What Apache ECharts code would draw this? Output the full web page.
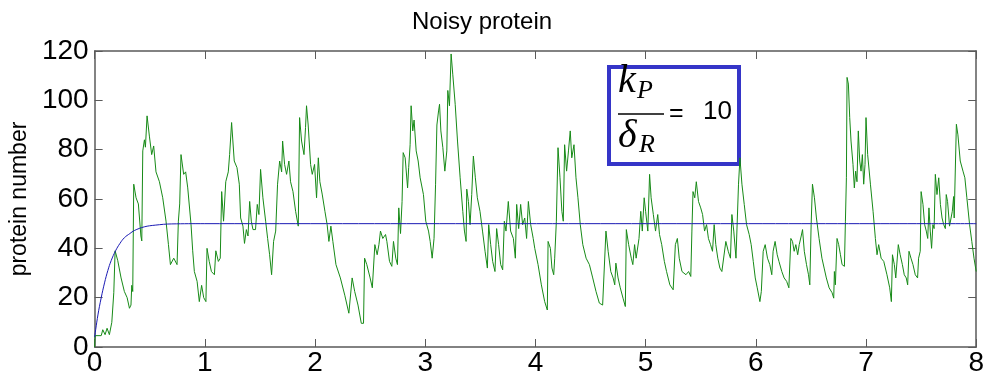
<!DOCTYPE html>
<html>
<head>
<meta charset="utf-8">
<script src="https://cdn.jsdelivr.net/npm/echarts@6/dist/echarts.min.js"></script>
<style>
html,body{margin:0;padding:0;background:#fff;}
#chart{width:987px;height:383px;}
</style>
</head>
<body>
<div id="chart"></div>
<script>
// ---- data ----
const titleText = 'Noisy protein';
const yAxisName = 'protein number';
const xTicks = [0, 1, 2, 3, 4, 5, 6, 7, 8];
const yTicks = [0, 20, 40, 60, 80, 100, 120];

// stochastic protein trajectory (time, protein number)
const greenT = [0,0.005,0.06,0.074,0.095,0.113,0.134,0.156,0.174,0.186,0.21,0.24,0.27,0.295,0.316,0.33,0.337,0.346,0.355,0.376,0.397,0.42,0.428,0.437,0.452,0.461,0.476,0.497,0.518,0.536,0.557,0.588,0.618,0.648,0.67,0.688,0.718,0.748,0.76,0.772,0.784,0.808,0.826,0.845,0.875,0.89,0.905,0.93,0.95,0.971,0.99,1.01,1.02,1.04,1.06,1.087,1.10,1.123,1.14,1.153,1.17,1.19,1.213,1.225,1.243,1.267,1.292,1.313,1.325,1.346,1.36,1.377,1.392,1.407,1.422,1.437,1.46,1.476,1.491,1.506,1.527,1.552,1.57,1.588,1.606,1.624,1.643,1.66,1.679,1.697,1.706,1.724,1.742,1.763,1.778,1.8,1.824,1.848,1.86,1.878,1.9,1.914,1.923,1.938,1.96,1.975,1.996,2.014,2.03,2.044,2.065,2.09,2.11,2.126,2.144,2.162,2.19,2.23,2.27,2.307,2.337,2.36,2.39,2.42,2.44,2.45,2.47,2.5,2.52,2.535,2.543,2.564,2.58,2.594,2.615,2.64,2.652,2.676,2.697,2.712,2.733,2.748,2.76,2.776,2.79,2.8,2.818,2.84,2.85,2.863,2.872,2.887,2.899,2.918,2.936,2.954,2.984,3.005,3.03,3.045,3.063,3.08,3.094,3.106,3.121,3.13,3.142,3.16,3.178,3.196,3.205,3.22,3.235,3.25,3.272,3.293,3.317,3.341,3.356,3.371,3.377,3.392,3.407,3.422,3.437,3.455,3.473,3.497,3.52,3.543,3.564,3.576,3.594,3.612,3.633,3.648,3.666,3.685,3.703,3.718,3.733,3.754,3.775,3.8,3.818,3.83,3.848,3.866,3.884,3.903,3.92,3.936,3.957,3.98,3.994,4.024,4.054,4.084,4.108,4.115,4.136,4.15,4.166,4.175,4.19,4.205,4.223,4.24,4.253,4.265,4.283,4.3,4.316,4.33,4.35,4.368,4.386,4.407,4.43,4.46,4.49,4.52,4.55,4.58,4.61,4.625,4.64,4.66,4.684,4.705,4.72,4.73,4.75,4.77,4.795,4.816,4.825,4.846,4.87,4.884,4.9,4.914,4.94,4.956,4.97,4.987,5.0,5.02,5.036,5.05,5.07,5.09,5.11,5.126,5.146,5.17,5.19,5.22,5.25,5.27,5.288,5.305,5.33,5.366,5.39,5.41,5.42,5.43,5.446,5.46,5.48,5.5,5.517,5.535,5.553,5.57,5.589,5.607,5.622,5.637,5.655,5.674,5.692,5.71,5.728,5.75,5.77,5.783,5.8,5.82,5.835,5.843,5.856,5.874,5.895,5.916,5.94,5.958,5.977,5.995,6.013,6.037,6.05,6.067,6.085,6.106,6.127,6.145,6.157,6.175,6.194,6.21,6.236,6.257,6.28,6.3,6.318,6.333,6.348,6.363,6.38,6.394,6.412,6.424,6.44,6.46,6.478,6.49,6.502,6.514,6.532,6.55,6.574,6.6,6.62,6.64,6.665,6.692,6.707,6.713,6.722,6.737,6.752,6.768,6.783,6.804,6.813,6.822,6.828,6.84,6.852,6.864,6.882,6.894,6.906,6.918,6.93,6.943,6.955,6.967,6.979,6.991,7.0,7.015,7.04,7.064,7.085,7.1,7.115,7.137,7.161,7.19,7.215,7.23,7.24,7.257,7.27,7.293,7.31,7.33,7.347,7.365,7.378,7.39,7.408,7.426,7.447,7.468,7.477,7.492,7.5,7.517,7.532,7.547,7.56,7.571,7.583,7.595,7.607,7.618,7.629,7.644,7.66,7.675,7.69,7.705,7.72,7.728,7.74,7.758,7.77,7.783,7.795,7.8,7.82,7.834,7.855,7.88,7.897,7.915,7.94,7.96,7.98,8.0];
const greenV = [0,4.6,4.6,7,5,7.6,5,10,22,39,35,28,22.5,20,15.7,17,25,22.5,66,60.5,58,45,43,79.5,84,81,93.7,85.5,78,81.5,71,67,60.5,51,41.5,33.4,36,33.4,51,58,78,70,71,64.5,49.6,39,30.6,26.6,18.4,25,20,18.4,40,34.7,30.6,29.3,39,34.7,36,63,51,67,71,78,91,75.4,72.7,66,52.3,49,42,47.6,45,59,51,47.6,47.6,57.8,53.7,72,60.5,51,44,37.4,29.3,42.8,47,66,75.4,71,83.5,74,70,75.4,67,63,55,49,93,83.5,78,89,97.8,90,74,70,74,60.5,76.7,67,62,55,49.6,42.8,49,42.8,33.4,28,21,13.7,28,22.5,17,9.6,9.6,36,33.4,28,24,24,41.5,37.4,41.5,47,44,45.6,42.8,34.7,32.7,42.8,36,33.4,56.4,46,59,78.8,76.7,64.5,72.7,82,97.8,87.6,92,79.5,75.4,68.6,61.8,51,47,42.8,36,44,66,90,95.7,98.4,87.6,80.8,71.3,79.5,104,97.8,118.8,110.6,98.4,83.5,68.6,55,47,42.8,64,59,49.6,61.8,77.4,68.6,60.5,55,47,38.8,32,49.6,41.5,34.7,30.6,48,41.5,33.4,31.3,51,47,59,47,44,36,57.8,48,57.8,49.6,52.3,44,59,49.6,44,40,33.4,25.2,18.4,15,42.8,40,32,29.3,36,51,80.8,68.6,55,51,82,71.3,79.5,87.6,76.7,82,68.6,60.5,49.6,41.5,36,33.4,28,22.5,17.8,17,17,47,38.8,30.6,28,25.2,34,28,24,19.8,16.4,47.6,41.5,36,33.4,41.5,36,44,55,47,60.5,55,47,70,60.5,53.7,47,53.7,45.6,41.5,34.7,30.6,25.2,23.2,41.5,44,36,30.6,29.3,30.6,28.6,47,63,60.5,67,59,56.4,53.7,47,49.6,44,41.5,38.8,49.6,41.5,36,32,30.6,30,42.8,38.8,36,53.7,47,36,36,66,76.7,66,57.8,49.6,45.6,41.5,34.7,28,24,18.4,22.5,38.8,41.5,36,33.4,29.3,38.8,42.8,37.4,34.7,30.6,28,26.6,24,44,42.8,38.8,41.5,37.4,41.5,45,47.6,38.8,33.4,29.3,25.2,49.6,66,60.5,52.3,44,36,32,28,24,22,19.8,30.6,25.2,44,41.5,37.4,33.4,32.7,51,68.6,109.3,106.6,93,83.5,74,64.5,71.3,67,87.6,75.4,71.3,78,66,74,93,78,66,55,44,37.4,41.5,36,34.7,29.3,24,18.4,37.4,33.4,28,41.5,37.4,33.4,29.3,28,25.2,38.8,36,33.4,29.3,28,36,38.8,63,57.8,49.6,47,44,56.4,47,40,49.6,48,70,61.8,68.6,57.8,52.3,49.6,48,61.8,59,49,49.6,55,61,52.3,90.3,86,75.4,71.3,68.6,60.5,49.6,42.8,36,30.6];

// deterministic mean (time, protein number)
const blueT = [0,0.03,0.06,0.09,0.12,0.15,0.19,0.23,0.27,0.32,0.36,0.45,0.55,0.7,1,8];
const blueV = [4,13,20,26,31,35,39,42,44.3,46,47.2,48.7,49.4,49.9,50,50];

// annotation content
const fracNum = 'k';
const fracNumSub = 'P';
const fracDen = 'δ';
const fracDenSub = 'R';
const ratioValue = '10';

const chart = echarts.init(document.getElementById('chart'), null, {renderer: 'canvas'});
const sans = 'Liberation Sans, Arial, sans-serif';
const serif = 'Liberation Serif, Times New Roman, serif';
const frameColor = '#5a5a5a';

const tickStyle = {show: true, inside: true, length: 8, lineStyle: {color: frameColor, width: 1}};

const option = {
  backgroundColor: '#ffffff',
  animation: false,
  title: {
    text: titleText,
    left: 407,
    top: 5,
    textStyle: {fontFamily: sans, fontSize: 24, fontWeight: 'normal', color: '#000'}
  },
  grid: {left: 93.5, right: 10.5, top: 51, bottom: 36, containLabel: false},
  xAxis: [{
    type: 'value', min: xTicks[0], max: xTicks[xTicks.length - 1], interval: 1,
    position: 'bottom',
    axisLine: {show: true, onZero: false, lineStyle: {color: frameColor, width: 1.5}},
    axisTick: tickStyle,
    axisLabel: {fontFamily: sans, fontSize: 28, color: '#000', margin: 2},
    splitLine: {show: false}
  }, {
    type: 'value', min: xTicks[0], max: xTicks[xTicks.length - 1], interval: 1,
    position: 'top',
    axisLine: {show: true, onZero: false, lineStyle: {color: frameColor, width: 1.5}},
    axisTick: tickStyle,
    axisLabel: {show: false},
    splitLine: {show: false}
  }],
  yAxis: [{
    type: 'value', min: yTicks[0], max: yTicks[yTicks.length - 1], interval: 20,
    position: 'left',
    name: yAxisName, nameLocation: 'middle', nameGap: 60, nameRotate: 90,
    nameTextStyle: {fontFamily: sans, fontSize: 23, color: '#000'},
    axisLine: {show: true, onZero: false, lineStyle: {color: frameColor, width: 1.5}},
    axisTick: tickStyle,
    axisLabel: {fontFamily: sans, fontSize: 28, color: '#000', margin: 6},
    splitLine: {show: false}
  }, {
    type: 'value', min: yTicks[0], max: yTicks[yTicks.length - 1], interval: 20,
    position: 'right',
    axisLine: {show: true, onZero: false, lineStyle: {color: frameColor, width: 1.5}},
    axisTick: tickStyle,
    axisLabel: {show: false},
    splitLine: {show: false}
  }],
  series: [{
    name: 'stochastic', type: 'line',
    data: greenT.map((t, i) => [t, greenV[i]]),
    showSymbol: false, symbol: 'none', sampling: false,
    lineStyle: {color: '#178a17', width: 1},
    z: 2
  }, {
    name: 'mean', type: 'line',
    data: blueT.map((t, i) => [t, blueV[i]]),
    showSymbol: false, symbol: 'none', smooth: 0.4,
    lineStyle: {color: '#1a1ab4', width: 1},
    z: 3
  }],
  graphic: [{
    type: 'group', left: 607, top: 61, z: 100,
    children: [
      {type: 'rect', shape: {x: 0, y: 0, width: 130, height: 97},
        style: {fill: '#ffffff', stroke: '#3535c8', lineWidth: 4}},
      {type: 'text', x: 9, y: 34, style: {text: fracNum, font: 'italic 40px ' + serif, fill: '#000', textAlign: 'left', textVerticalAlign: 'bottom'}},
      {type: 'text', x: 28, y: 37, style: {text: fracNumSub, font: 'italic 26px ' + serif, fill: '#000', textAlign: 'left', textVerticalAlign: 'bottom'}},
      {type: 'line', shape: {x1: 9, y1: 47, x2: 55, y2: 47}, style: {stroke: '#000', lineWidth: 1.3}},
      {type: 'text', x: 9, y: 89, style: {text: fracDen, font: 'italic 40px ' + serif, fill: '#000', textAlign: 'left', textVerticalAlign: 'bottom'}},
      {type: 'text', x: 30, y: 91, style: {text: fracDenSub, font: 'italic 26px ' + serif, fill: '#000', textAlign: 'left', textVerticalAlign: 'bottom'}},
      {type: 'text', x: 60, y: 47, style: {text: '=', font: '25px ' + sans, fill: '#000', textAlign: 'left', textVerticalAlign: 'middle'}},
      {type: 'text', x: 94, y: 45, style: {text: ratioValue, font: '26px ' + sans, fill: '#000', textAlign: 'left', textVerticalAlign: 'middle'}}
    ]
  }]
};
chart.setOption(option);
</script>
</body>
</html>
